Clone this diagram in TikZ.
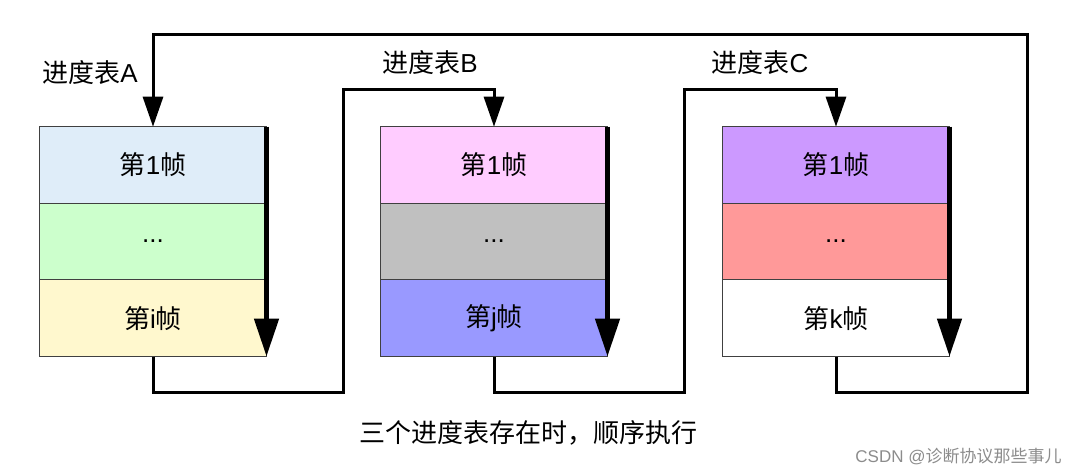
\documentclass[tikz,border=0pt]{standalone}
\usepackage{fontspec}
\setmainfont{Liberation Sans}
\newfontfamily\cjk{Noto Sans CJK SC}
\usetikzlibrary{positioning,arrows.meta}

% row colours
\definecolor{rowAa}{HTML}{DFEDF9}
\definecolor{rowAb}{HTML}{CCFFCC}
\definecolor{rowAc}{HTML}{FFF8CE}
\definecolor{rowBa}{HTML}{FFCCFF}
\definecolor{rowBb}{HTML}{C0C0C0}
\definecolor{rowBc}{HTML}{9999FF}
\definecolor{rowCa}{HTML}{CC99FF}
\definecolor{rowCb}{HTML}{FF9999}
\definecolor{rowCc}{HTML}{FFFFFF}

\newcommand{\zh}[1]{{\cjk #1}}

\begin{document}
\begin{tikzpicture}[x=0.5pt,y=-0.5pt,
    frame/.style={draw=black!75, line width=0.5pt, minimum width=113.5pt,
      minimum height=38.3pt, inner sep=0pt, outer sep=0pt,
      font=\fontsize{13}{15}\selectfont},
    lbl/.style={font=\fontsize{13}{15}\selectfont},
    flow/.style={line width=1.5pt, -{Triangle[width=10pt,length=15pt]}},
    rail/.style={line width=2.5pt, -{Triangle[width=12pt,length=19pt]}}]
  \useasboundingbox (0,0) rectangle (1077,476);

  % Tabla A
  \node[frame, fill=rowAa] (a1) at (153,165) {\zh{第}1\zh{帧}};
  \node[frame, fill=rowAb, below=0pt of a1] (a2) {...};
  \node[frame, fill=rowAc, below=0pt of a2] (a3) {\zh{第}i\zh{帧}};
  \draw[rail] (a1.north east) -- (a3.south east);

  % Tabla B
  \node[frame, fill=rowBa] (b1) at (494,165) {\zh{第}1\zh{帧}};
  \node[frame, fill=rowBb, below=0pt of b1] (b2) {...};
  \node[frame, fill=rowBc, below=0pt of b2] (b3) {\zh{第}j\zh{帧}};
  \draw[rail] (b1.north east) -- (b3.south east);

  % Tabla C
  \node[frame, fill=rowCa] (c1) at (836,165) {\zh{第}1\zh{帧}};
  \node[frame, fill=rowCb, below=0pt of c1] (c2) {...};
  \node[frame, fill=rowCc, below=0pt of c2] (c3) {\zh{第}k\zh{帧}};
  \draw[rail] (c1.north east) -- (c3.south east);

  % Etiquetas
  \node[lbl] (la) at (90,73) {\zh{进度表}A};
  \node[lbl] (lb) at (430,63) {\zh{进度表}B};
  \node[lbl] (lc) at (760,63) {\zh{进度表}C};

  % Enlaces
  \coordinate (ab) at (343,392);
  \coordinate (abtop) at (343,90);
  \coordinate (bc) at (684,392);
  \coordinate (bctop) at (684,90);
  \coordinate (ca) at (1027,392);
  \coordinate (catop) at (1027,35);
  \draw[flow] (a3.south) |- (ab) -- (abtop) -| (b1.north);
  \draw[flow] (b3.south) |- (bc) -- (bctop) -| (c1.north);
  \draw[flow] (c3.south) |- (ca) -- (catop) -| (a1.north);

  \node[lbl] (cap) at (528,433) {\zh{三个进度表存在时，顺序执行}};
  \node[font=\fontsize{8.5}{10}\selectfont, text=black!45, anchor=east,
    inner sep=0pt] (mark) at (1062,457) {CSDN @\zh{诊断协议那些事儿}};
\end{tikzpicture}
\end{document}
